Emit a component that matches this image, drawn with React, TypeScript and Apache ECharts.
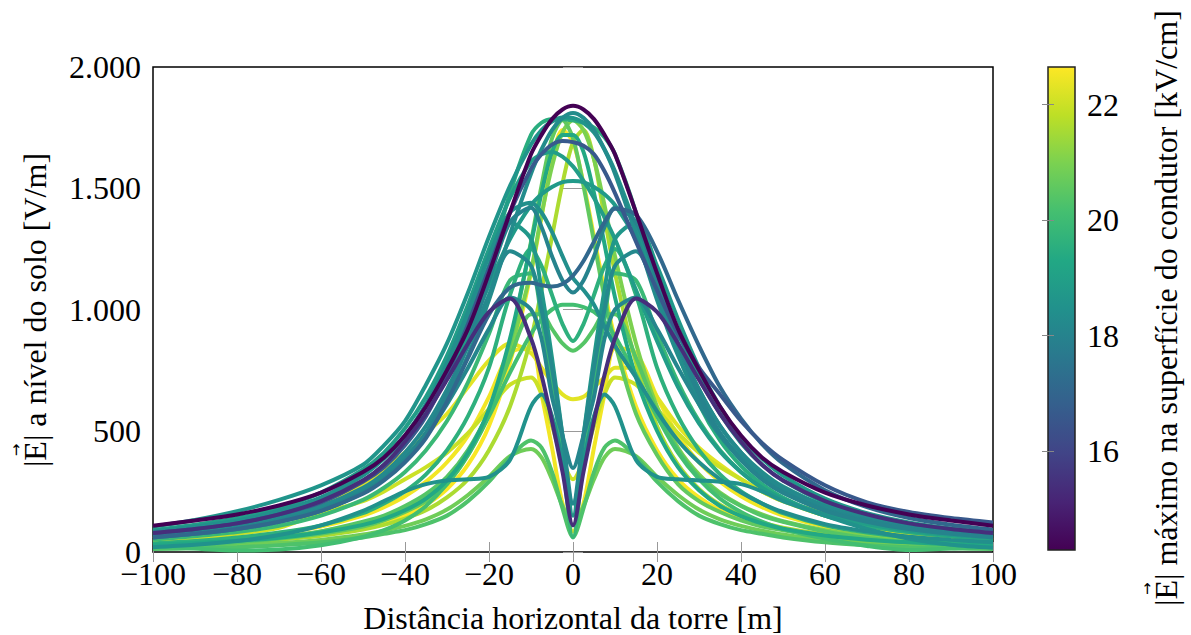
import React, { useEffect, useRef } from "react";
import * as echarts from "echarts";

// Horizontal distance grid [m]
const xs = [-100, -90, -80, -70, -60, -50, -45, -40, -35, -30, -25, -20, -15, -10, -7.5, -5, -2.5, 0, 2.5, 5, 7.5, 10, 15, 20, 25, 30, 35, 40, 45, 50, 60, 70, 80, 90, 100];

// Ground-level field profiles [V/m], one per configuration
const Y1 = [28, 34, 42, 54, 72, 100, 122, 152, 195, 260, 360, 520, 780, 1150, 1380, 1620, 1740, 1690, 1520, 1300, 1080, 880, 600, 420, 300, 225, 172, 138, 112, 93, 67, 51, 40, 33, 27];
const Y2 = [40, 48, 60, 78, 105, 150, 185, 230, 290, 370, 480, 640, 820, 840, 650, 430, 200, 85, 200, 430, 650, 840, 820, 640, 480, 370, 290, 230, 185, 150, 105, 78, 60, 48, 40];
const Y3 = [55, 72, 95, 130, 195, 280, 340, 410, 490, 570, 680, 790, 860, 820, 760, 700, 650, 630, 640, 680, 720, 760, 760, 640, 520, 430, 360, 300, 250, 210, 150, 110, 82, 64, 50];
const Y4 = [45, 58, 75, 100, 160, 210, 250, 300, 350, 410, 490, 590, 690, 720, 650, 520, 380, 300, 380, 520, 650, 720, 690, 590, 490, 410, 350, 300, 250, 210, 160, 100, 75, 58, 45];
const Y5 = [27, 33, 40, 51, 67, 93, 112, 138, 172, 225, 300, 420, 600, 880, 1080, 1300, 1520, 1690, 1740, 1620, 1380, 1150, 780, 520, 360, 260, 195, 152, 122, 100, 72, 54, 42, 34, 28];
const G1 = [32, 40, 50, 64, 85, 118, 142, 175, 225, 300, 410, 580, 830, 1160, 1390, 1590, 1730, 1780, 1740, 1620, 1430, 1220, 860, 600, 430, 320, 245, 192, 155, 127, 90, 67, 52, 41, 34];
const G2 = [28, 35, 43, 55, 75, 105, 130, 165, 210, 280, 400, 570, 860, 1280, 1510, 1706, 1780, 1706, 1510, 1280, 1050, 860, 570, 400, 280, 210, 165, 130, 105, 90, 65, 50, 40, 32, 27];
const G3 = [12, 15, 20, 28, 40, 60, 75, 90, 115, 150, 210, 290, 390, 460, 430, 330, 180, 62, 180, 330, 430, 460, 390, 290, 210, 150, 115, 90, 75, 60, 40, 28, 20, 15, 12];
const G4 = [18, 22, 28, 37, 50, 72, 88, 108, 135, 175, 235, 310, 395, 425, 390, 300, 190, 110, 190, 300, 390, 425, 395, 310, 235, 175, 135, 108, 88, 72, 50, 37, 28, 22, 18];
const G5 = [52, 65, 82, 108, 150, 215, 265, 330, 420, 540, 700, 900, 1120, 1150, 960, 700, 380, 60, 380, 700, 960, 1150, 1120, 900, 700, 540, 420, 330, 265, 215, 150, 108, 82, 65, 52];
const G6 = [25, 14, 6, 10, 28, 62, 90, 130, 190, 280, 400, 560, 740, 900, 960, 1000, 1020, 1020, 1010, 990, 950, 890, 730, 560, 410, 300, 220, 165, 125, 95, 55, 25, 8, 14, 24];
const G7 = [60, 75, 95, 125, 170, 245, 300, 380, 490, 650, 880, 1170, 1480, 1720, 1770, 1785, 1785, 1780, 1770, 1750, 1710, 1640, 1400, 1090, 820, 610, 460, 355, 280, 225, 150, 108, 82, 65, 53];
const L1 = [20, 28, 40, 58, 85, 125, 150, 190, 240, 310, 420, 580, 800, 980, 980, 920, 860, 830, 860, 920, 980, 980, 800, 580, 420, 310, 240, 190, 150, 125, 85, 58, 40, 28, 20];
const L2 = [35, 45, 60, 80, 110, 160, 200, 250, 320, 420, 560, 760, 1060, 1250, 1180, 1060, 940, 870, 940, 1060, 1180, 1250, 1060, 760, 560, 420, 320, 250, 200, 160, 110, 80, 60, 45, 35];
const T1 = [30, 37, 46, 59, 80, 112, 137, 172, 220, 295, 410, 590, 880, 1270, 1480, 1650, 1720, 1720, 1650, 1480, 1270, 1050, 720, 500, 350, 255, 190, 148, 118, 96, 68, 51, 40, 32, 27];
const T2 = [75, 92, 115, 150, 205, 295, 360, 450, 570, 720, 900, 1100, 1290, 1430, 1475, 1505, 1525, 1530, 1525, 1505, 1475, 1430, 1290, 1100, 900, 720, 570, 450, 360, 295, 205, 150, 115, 92, 75];
const T3 = [105, 132, 168, 215, 275, 360, 440, 540, 690, 860, 1070, 1300, 1510, 1680, 1740, 1775, 1792, 1790, 1770, 1730, 1660, 1570, 1340, 1090, 860, 670, 520, 410, 330, 270, 190, 140, 108, 88, 72];
const T4 = [80, 97, 122, 160, 220, 315, 385, 475, 600, 760, 960, 1180, 1360, 1290, 1080, 800, 480, 150, 480, 800, 1080, 1290, 1360, 1180, 960, 760, 600, 475, 385, 315, 220, 160, 122, 97, 80];
const T5 = [85, 105, 130, 170, 225, 320, 390, 480, 610, 780, 990, 1220, 1400, 1440, 1400, 1320, 1220, 1130, 1080, 1020, 930, 850, 720, 580, 460, 370, 300, 245, 200, 165, 115, 85, 63, 50, 40];
const T6 = [70, 86, 107, 138, 185, 260, 315, 390, 490, 630, 810, 1040, 1310, 1560, 1660, 1740, 1790, 1810, 1790, 1740, 1660, 1560, 1310, 1040, 810, 630, 490, 390, 315, 260, 185, 138, 107, 86, 70];
const T7 = [65, 80, 100, 130, 175, 245, 300, 380, 480, 610, 760, 920, 1050, 1000, 880, 640, 480, 346, 480, 640, 880, 1000, 1050, 920, 760, 610, 480, 380, 300, 245, 175, 130, 100, 80, 65];
const T8 = [60, 75, 95, 125, 170, 245, 300, 380, 490, 650, 860, 1120, 1360, 1420, 1340, 1220, 1120, 1070, 1120, 1220, 1340, 1420, 1360, 1120, 860, 650, 490, 380, 300, 245, 170, 125, 95, 75, 60];
const T9 = [90, 112, 140, 182, 245, 340, 410, 510, 640, 810, 1020, 1250, 1460, 1610, 1640, 1650, 1630, 1590, 1530, 1460, 1380, 1290, 1080, 870, 680, 530, 415, 330, 265, 218, 155, 115, 88, 70, 58];
const T10 = [70, 85, 105, 138, 188, 265, 325, 410, 520, 670, 850, 1060, 1240, 1180, 1000, 760, 480, 200, 480, 760, 1000, 1180, 1240, 1060, 850, 670, 520, 410, 325, 265, 188, 138, 105, 85, 70];
const T11 = [20, 30, 45, 70, 110, 170, 210, 250, 280, 295, 300, 310, 380, 600, 650, 560, 380, 200, 380, 560, 650, 600, 380, 310, 300, 295, 290, 280, 250, 210, 150, 95, 55, 30, 18];
const B1 = [60, 75, 95, 125, 170, 240, 295, 370, 470, 620, 800, 980, 1090, 1110, 1100, 1095, 1105, 1140, 1200, 1280, 1360, 1415, 1390, 1240, 1040, 850, 680, 550, 445, 365, 255, 185, 140, 112, 92];
const B2 = [78, 95, 118, 155, 205, 290, 350, 440, 560, 730, 940, 1170, 1400, 1580, 1640, 1680, 1695, 1690, 1675, 1640, 1570, 1480, 1280, 1080, 900, 760, 650, 540, 450, 380, 275, 205, 165, 140, 122];
const P1 = [78, 95, 118, 155, 210, 295, 360, 455, 570, 710, 860, 990, 1045, 880, 730, 540, 330, 110, 330, 540, 730, 880, 1045, 990, 860, 710, 570, 455, 360, 295, 210, 155, 118, 95, 78];
const D1 = [108, 130, 155, 192, 245, 330, 390, 480, 600, 750, 920, 1150, 1400, 1640, 1720, 1785, 1825, 1840, 1825, 1785, 1720, 1640, 1400, 1150, 920, 750, 600, 480, 390, 330, 245, 192, 155, 130, 108];

// Maximum conductor surface field [kV/cm] for each profile
const curves = [
  { emax: 22.6, data: Y1 },
  { emax: 22.5, data: Y2 },
  { emax: 22.3, data: Y3 },
  { emax: 22.0, data: Y4 },
  { emax: 21.6, data: Y5 },
  { emax: 21.0, data: G1 },
  { emax: 20.8, data: G4 },
  { emax: 20.6, data: G2 },
  { emax: 20.4, data: L1 },
  { emax: 20.3, data: G3 },
  { emax: 20.1, data: G6 },
  { emax: 19.9, data: G5 },
  { emax: 19.6, data: L2 },
  { emax: 19.5, data: G7 },
  { emax: 19.3, data: T1 },
  { emax: 18.9, data: T9 },
  { emax: 18.8, data: T2 },
  { emax: 18.7, data: T4 },
  { emax: 18.6, data: T3 },
  { emax: 18.5, data: T11 },
  { emax: 18.4, data: T5 },
  { emax: 18.3, data: T6 },
  { emax: 18.2, data: T10 },
  { emax: 18.1, data: T7 },
  { emax: 18.0, data: T8 },
  { emax: 17.1, data: B1 },
  { emax: 16.6, data: B2 },
  { emax: 15.4, data: P1 },
  { emax: 14.3, data: D1 },
];

const colorMin = 14.29;
const colorMax = 22.65;
const colorTicks = [16, 18, 20, 22];

const viridis = ["#440154", "#482475", "#414487", "#355f8d", "#2a788e", "#21918c", "#22a884", "#44bf70", "#7ad151", "#bddf26", "#fde725"];

function hexToRgb(h: string) {
  return [parseInt(h.slice(1, 3), 16), parseInt(h.slice(3, 5), 16), parseInt(h.slice(5, 7), 16)];
}
function viridisColor(v: number) {
  let t = (v - colorMin) / (colorMax - colorMin);
  t = Math.max(0, Math.min(1, t));
  const pos = t * (viridis.length - 1);
  const i = Math.min(viridis.length - 2, Math.floor(pos));
  const f = pos - i;
  const a = hexToRgb(viridis[i]);
  const b = hexToRgb(viridis[i + 1]);
  const c = a.map((av, k) => Math.round(av + (b[k] - av) * f));
  return `rgb(${c[0]},${c[1]},${c[2]})`;
}

const FONT = "'Liberation Serif', 'Times New Roman', serif";
const FS = 32;

function measure(text: string, font: string) {
  const ctx = document.createElement("canvas").getContext("2d");
  if (!ctx) return text.length * 14;
  ctx.font = font;
  return ctx.measureText(text).width;
}

// Rotated title of the form "|E| ..." with a small vector arrow over the E
function vectorTitle(cx: number, cy: number, text: string) {
  const font = `${FS}px ${FONT}`;
  const W = measure(text, font);
  const wBar = measure("|", font);
  const wE = measure("E", font);
  const start = -W / 2;
  return {
    type: "group",
    x: cx,
    y: cy,
    rotation: Math.PI / 2,
    children: [
      {
        type: "text",
        x: start,
        y: 0,
        style: { text, font, fill: "#000", align: "left", verticalAlign: "middle" },
      },
      {
        type: "text",
        x: start + wBar + wE / 2 + 1,
        y: -19,
        style: { text: "\u2192", font: "15px 'DejaVu Sans', sans-serif", fill: "#000", align: "center", verticalAlign: "middle" },
      },
    ],
  };
}

export default function App() {
  const ref = useRef<HTMLDivElement>(null);
  useEffect(() => {
    if (!ref.current) return;
    const chart = echarts.init(ref.current, null, { renderer: "svg" });
    const tickStyle = { color: "#999", width: 1 };
    const series: any[] = curves.map((c) => ({
      type: "line",
      xAxisIndex: 0,
      yAxisIndex: 0,
      data: xs.map((x, i) => [x, c.data[i]]),
      showSymbol: false,
      symbol: "none",
      smooth: 0.3,
      silent: true,
      clip: true,
      lineStyle: { width: 4, color: viridisColor(c.emax) },
    }));
    chart.setOption({
      animation: false,
      backgroundColor: "#fff",
      grid: [
        { left: 153, top: 67, width: 840, height: 485, show: true, borderColor: "#000", borderWidth: 1.5, backgroundColor: "transparent" },
        {
          left: 1048,
          top: 67,
          width: 27,
          height: 483,
          show: true,
          borderColor: "#222",
          borderWidth: 1.5,
          backgroundColor: {
            type: "linear",
            x: 0,
            y: 1,
            x2: 0,
            y2: 0,
            colorStops: viridis.map((c, i) => ({ offset: i / (viridis.length - 1), color: c })),
          },
        },
      ],
      xAxis: [
        {
          type: "value",
          gridIndex: 0,
          min: -100,
          max: 100,
          interval: 20,
          position: "bottom",
          axisLine: { show: false },
          axisTick: { show: true, inside: true, length: 10, lineStyle: tickStyle },
          splitLine: { show: false },
          axisLabel: {
            fontFamily: FONT,
            fontSize: FS,
            color: "#000",
            margin: 6,
            formatter: (v: number) => (v < 0 ? "\u2212" + -v : String(v)),
          },
        },
        {
          type: "value",
          gridIndex: 0,
          min: -100,
          max: 100,
          interval: 20,
          position: "top",
          axisLine: { show: false },
          axisTick: { show: true, inside: true, length: 10, lineStyle: tickStyle },
          splitLine: { show: false },
          axisLabel: { show: false },
        },
        { type: "value", gridIndex: 1, min: 0, max: 1, show: false },
      ],
      yAxis: [
        {
          type: "value",
          gridIndex: 0,
          min: 0,
          max: 2000,
          interval: 500,
          position: "left",
          axisLine: { show: false },
          axisTick: { show: true, inside: true, length: 10, lineStyle: tickStyle },
          splitLine: { show: false },
          axisLabel: {
            fontFamily: FONT,
            fontSize: FS,
            color: "#000",
            margin: 12,
            formatter: (v: number) =>
              v >= 1000 ? `${Math.floor(v / 1000)}.${String(v % 1000).padStart(3, "0")}` : String(v),
          },
        },
        {
          type: "value",
          gridIndex: 0,
          min: 0,
          max: 2000,
          interval: 500,
          position: "right",
          axisLine: { show: false },
          axisTick: { show: true, inside: true, length: 10, lineStyle: tickStyle },
          splitLine: { show: false },
          axisLabel: { show: false },
        },
        {
          type: "value",
          gridIndex: 1,
          min: colorMin,
          max: colorMax,
          position: "right",
          axisLine: { show: false },
          axisTick: { show: true, inside: true, length: 6, lineStyle: { color: "#888", width: 1 }, customValues: colorTicks },
          splitLine: { show: false },
          axisLabel: { fontFamily: FONT, fontSize: FS, color: "#000", margin: 12, customValues: colorTicks },
        },
        {
          type: "value",
          gridIndex: 1,
          min: colorMin,
          max: colorMax,
          position: "left",
          axisLine: { show: false },
          axisTick: { show: true, inside: true, length: 6, lineStyle: { color: "#888", width: 1 }, customValues: colorTicks },
          splitLine: { show: false },
          axisLabel: { show: false, customValues: colorTicks },
        },
      ],
      graphic: [
        {
          type: "text",
          x: 573,
          y: 618,
          style: { text: "Distância horizontal da torre [m]", font: `${FS}px ${FONT}`, fill: "#000", align: "center", verticalAlign: "middle" },
        },
        vectorTitle(35, 310, "|E| a nível do solo [V/m]"),
        vectorTitle(1166, 308, "|E| máximo na superfície do condutor [kV/cm]"),
      ],
      series,
    });
    return () => chart.dispose();
  }, []);
  return <div ref={ref} style={{ position: "fixed", left: 0, top: 0, width: 1191, height: 635, background: "#fff" }} />;
}
